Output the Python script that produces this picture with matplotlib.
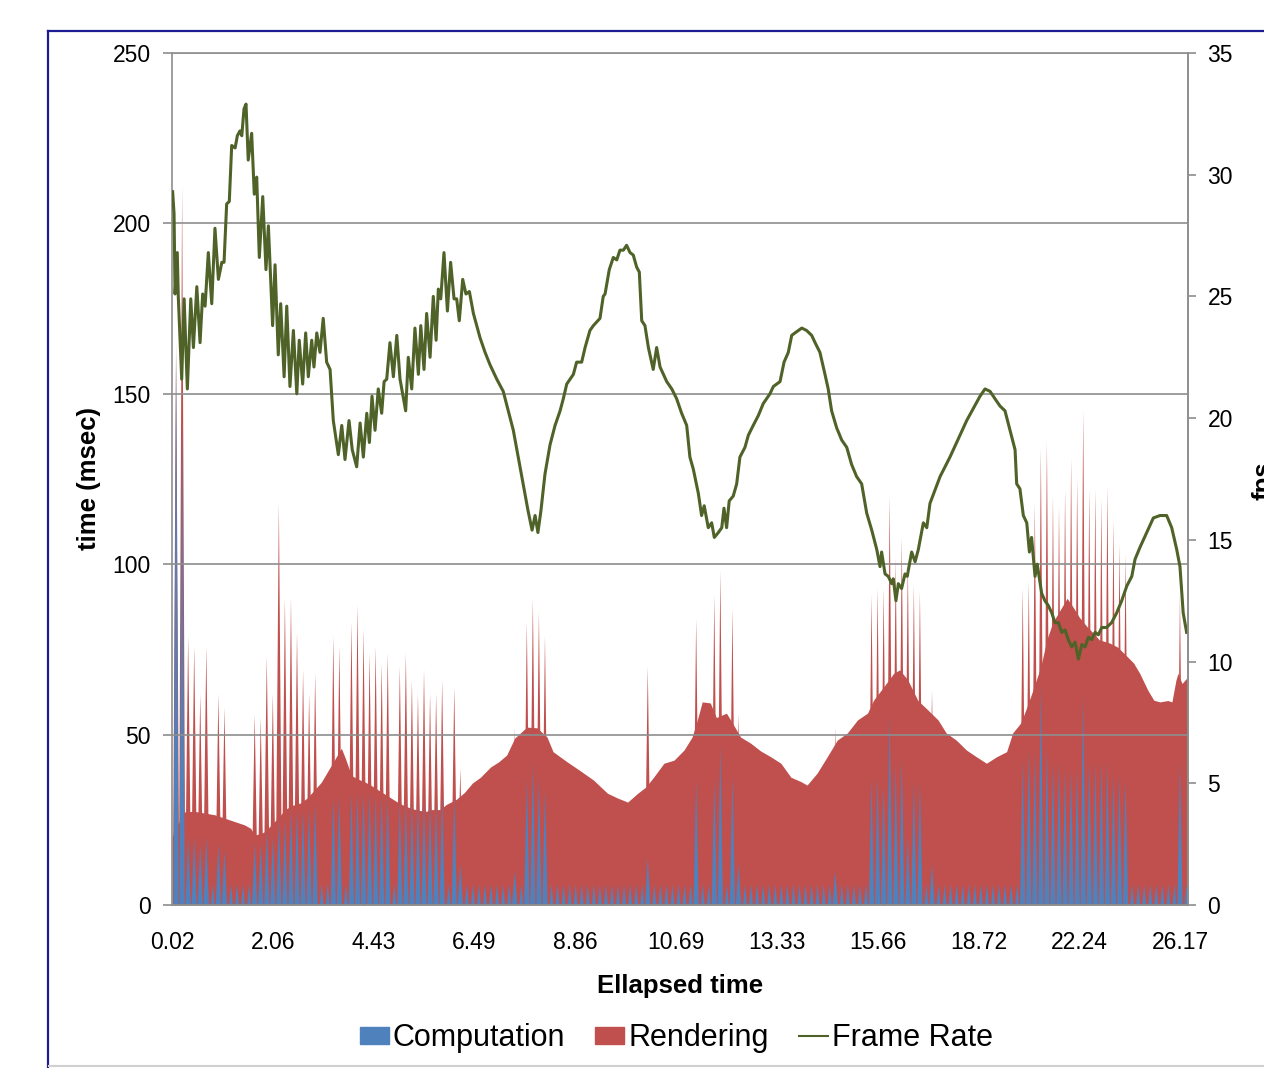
import numpy as np
import matplotlib
matplotlib.use('Agg')
import matplotlib.pyplot as plt
from matplotlib.collections import PolyCollection
from matplotlib.lines import Line2D
from matplotlib.patches import Patch

plt.rcParams['font.family'] = ['Liberation Sans', 'DejaVu Sans']

# x axis: frame index, a time label every 50 frames
time_labels = ['0.02', '2.06', '4.43', '6.49', '8.86', '10.69',
               '13.33', '15.66', '18.72', '22.24', '26.17']
label_every = 50
n_frames = 505

# rendering time, smooth envelope (frame, msec)
env_frame = [0, 2, 6, 11, 16, 21, 26, 31, 36, 39, 41, 44, 46, 50, 53, 56, 60, 64,
             67, 71, 74, 78, 81, 84, 86, 89, 92, 96, 99, 103, 107, 111, 114, 118,
             122, 126, 129, 133, 136, 141, 145, 149, 153, 158, 162, 166, 170, 176,
             181, 186, 189, 196, 202, 209, 216, 221, 226, 231, 235, 239, 244, 249,
             254, 258, 261, 263, 267, 270, 275, 278, 282, 287, 292, 297, 302, 307,
             312, 315, 320, 325, 330, 335, 340, 345, 348, 353, 358, 361, 365, 370,
             375, 380, 384, 389, 394, 399, 404, 409, 414, 417, 421, 424, 427, 431,
             434, 437, 441, 444, 447, 450, 454, 457, 460, 465, 469, 474, 477, 480,
             484, 487, 490, 494, 496, 498, 499, 501, 504]
env_ms = [20, 22.6, 27.3, 27.5, 27, 26.5, 25.5, 24.5, 23.5, 22.5, 20.5, 21, 21.5,
          24, 25.8, 28, 29.3, 30, 31.4, 34, 36, 40, 43, 46, 43, 38, 37, 36, 35,
          33.5, 32, 30.5, 29.5, 28.5, 27.8, 27.5, 28, 28, 29.5, 31, 33, 35.8, 37.5,
          40.5, 42, 44, 49, 52.2, 52, 49.3, 45, 42, 39.6, 36.7, 32.8, 31.4, 30.2,
          32.8, 34.6, 37.6, 41.6, 42.5, 45.5, 49.3, 55.2, 59.6, 59.3, 55, 56.3,
          53.4, 49.3, 47.5, 45.2, 43.5, 41.6, 37.5, 36.2, 35.2, 38.7, 43.5, 48.4,
          50.5, 54.3, 56.3, 60.1, 64, 68, 69, 66, 60, 57.2, 54.3, 50.5, 48.4, 45.5,
          43.5, 41.6, 43.5, 45, 50.5, 53.4, 58, 63, 70, 78, 83, 87, 90, 87.4, 84.5,
          81.6, 79.8, 77.8, 76.9, 75.7, 72.8, 71, 68, 63.1, 60.1, 59.6, 60, 59.6,
          66, 68, 65, 67]

# slow frames: total time (computation + rendering) and computation, msec
spike_frame = [2, 5, 8, 11, 14, 17, 23, 26,
               41, 44, 47, 50, 53, 56, 59, 62, 65, 68, 71, 80, 83,
               89, 92, 95, 98, 101, 104, 107, 113, 116, 119, 122, 125, 128, 131, 134,
               140, 143, 170, 176, 179, 182, 185, 236, 260, 269, 272, 278, 281, 329,
               347, 350, 353, 356, 359, 362, 365, 368, 371, 377,
               422, 425, 428, 431, 434, 437, 440, 443, 446, 449, 452, 455, 458, 461,
               464, 467, 470, 473, 500]
spike_total = [165, 211, 79, 76, 62, 76, 62, 58,
               56, 55, 73, 62, 118, 90, 90, 80, 69, 62, 68, 79, 76,
               83, 88, 81, 74, 76, 71, 74, 70, 74, 66, 62, 69, 62, 62, 66,
               64, 40, 52, 83, 90, 86, 79, 70, 84, 91, 98, 87, 56, 52,
               91, 93, 93, 120, 102, 108, 101, 94, 92, 63,
               93, 95, 118, 134, 136, 120, 117, 122, 131, 125, 145, 122, 122, 119,
               123, 113, 106, 103, 91]
spike_comp = [162, 144, 20, 20, 18, 20, 18, 16,
              18, 18, 22, 20, 25, 25, 28, 28, 28, 28, 30, 32, 32,
              33, 33, 33, 33, 32, 32, 32, 30, 30, 30, 30, 30, 30, 30, 32,
              32, 12, 10, 37, 42, 37, 34, 14, 37, 37, 47, 38, 12, 10,
              37, 38, 35, 56, 41, 43, 20, 36, 36, 12,
              43, 46, 45, 65, 46, 42, 42, 40, 40, 40, 62, 42, 42, 42,
              42, 38, 38, 37, 42]

# the computation step runs every third frame and takes about 6 msec
comp_step_first = 2
comp_step_every = 3
comp_step_ms = 6.3

# frame rate (frame, fps)
fps_frame = [0.3, 1.0, 1.5, 2.6, 3.1, 4.8, 6.0, 7.6, 9.3, 10.6, 12.3, 13.9, 15.2,
             16.4, 18.0, 19.7, 21.3, 23.0, 24.7, 25.8, 27.1, 28.4, 29.6, 31.3, 32.4,
             33.7, 34.6, 35.7, 36.7, 37.8, 39.5, 40.8, 42.0, 43.3, 45.0, 46.6, 47.8,
             49.9, 51.1, 52.7, 53.9, 55.6, 56.9, 58.5, 60.2, 61.9, 63.1, 64.8, 66.3,
             67.6, 69.3, 70.4, 71.8, 73.4, 75.0, 76.7, 78.4, 80.0, 82.5, 84.2, 85.8,
             87.8, 89.4, 91.6, 93.3, 94.9, 96.6, 97.9, 99.2, 100.7, 102.3, 104.0,
             105.2, 106.5, 108.1, 109.8, 111.5, 113.1, 115.9, 117.2, 118.9, 120.5,
             122.2, 123.4, 125.0, 126.3, 128.0, 129.6, 131.0, 132.1, 133.3, 134.9,
             136.6, 138.2, 139.9, 141.2, 142.5, 144.2, 145.8, 147.5, 149.5, 152.8,
             155.3, 157.7, 161.1, 164.3, 166.8, 169.3, 172.6, 174.6, 176.6, 178.6,
             180.1, 181.5, 183.0, 185.0, 187.5, 190.0, 192.5, 194.1, 195.8, 199.1,
             200.7, 203.2, 204.9, 207.3, 209.0, 212.3, 213.9, 214.8, 216.9, 218.9,
             220.6, 222.2, 223.9, 225.5, 227.2, 228.8, 230.5, 231.8, 233.0, 234.6,
             236.3, 238.7, 240.4, 242.1, 245.4, 247.9, 250.3, 252.8, 255.3, 256.9,
             258.6, 261.1, 262.7, 264.0, 266.0, 267.7, 269.0, 271.0, 272.7, 273.8,
             275.1, 276.4, 278.4, 280.1, 281.7, 284.2, 285.9, 288.3, 290.8, 293.3,
             296.6, 298.3, 301.6, 303.6, 305.7, 307.4, 309.0, 310.7, 312.4, 314.8,
             317.3, 319.0, 321.4, 323.9, 325.5, 327.2, 329.7, 332.2, 334.7, 337.1,
             339.6, 342.1, 344.6, 347.1, 349.6, 351.2, 352.0, 353.7, 355.3, 357.0,
             357.8, 359.1, 360.3, 361.9, 363.6, 364.7, 366.9, 368.6, 370.2, 372.7,
             374.4, 376.0, 381.0, 385.9, 389.2, 394.2, 397.5, 400.8, 403.3, 405.8,
             408.2, 410.7, 413.2, 415.7, 418.2, 419.0, 420.6, 422.3, 424.0, 425.3,
             426.4, 428.1, 429.2, 431.4, 433.0, 434.7, 436.4, 438.0, 439.7, 441.3,
             443.0, 444.6, 446.3, 448.0, 449.6, 451.3, 452.9, 454.6, 456.2, 457.9,
             459.5, 461.2, 463.6, 466.1, 468.6, 471.1, 473.6, 476.1, 477.7, 480.2,
             483.5, 486.8, 490.1, 493.4, 495.9, 498.4, 500.0, 501.6, 503.3]
fps = [29.3, 28.4, 25.1, 26.8, 25.0, 21.6, 24.9, 21.2, 24.9, 22.9, 25.4, 23.1, 25.1,
       24.6, 26.8, 24.7, 27.8, 25.7, 26.4, 26.4, 28.8, 28.9, 31.2, 31.1, 31.6,
       31.8, 31.6, 32.7, 32.9, 30.6, 31.7, 29.2, 29.9, 26.6, 29.1, 26.1, 27.9,
       23.8, 26.3, 22.6, 24.7, 21.7, 24.6, 21.3, 23.6, 21.0, 23.2, 21.4, 23.5,
       21.7, 23.2, 22.1, 23.5, 22.7, 24.1, 22.3, 22.0, 19.9, 18.5, 19.7, 18.3,
       19.9, 18.7, 18.0, 19.8, 18.4, 20.2, 19.0, 20.9, 19.5, 21.2, 20.2,
       21.5, 21.6, 23.1, 21.7, 23.4, 21.6, 20.3, 22.5, 21.2, 23.7,
       21.8, 23.8, 22.0, 24.3, 22.5, 25.0, 23.2, 25.3, 24.9, 26.8,
       24.4, 26.4, 24.9, 24.9, 24.0, 25.7, 25.1, 25.2, 24.3, 23.3,
       22.7, 22.2, 21.6, 21.1, 20.3, 19.5, 18.0, 17.1, 16.2, 15.4,
       16.0, 15.3, 16.2, 17.7, 18.9, 19.7, 20.3, 20.8, 21.4, 21.8,
       22.3, 22.3, 22.9, 23.6, 23.8, 24.1, 25.0, 25.1, 26.1, 26.6,
       26.5, 26.9, 26.9, 27.1, 26.8, 26.7, 26.2, 26.0, 24.0, 23.8,
       22.9, 22.0, 22.9, 22.1, 21.5, 21.2, 20.8, 20.2, 19.7, 18.4,
       17.9, 16.9, 16.0, 16.4, 15.5, 15.7, 15.1, 15.3, 15.5, 16.3,
       15.5, 16.6, 16.8, 17.3, 18.4, 18.8, 19.3, 19.7, 20.1, 20.6,
       21.0, 21.3, 21.5, 22.3, 22.7, 23.4, 23.5, 23.6, 23.7, 23.6,
       23.4, 23.1, 22.7, 21.8, 21.2, 20.3, 19.6, 19.1, 18.8, 18.1,
       17.6, 17.3, 16.1, 15.4, 14.6, 13.9, 14.5, 13.6, 13.5, 13.2,
       13.4, 12.5, 13.2, 13.0, 13.6, 13.5, 14.5, 14.1, 14.6, 15.7,
       15.5, 16.5, 17.6, 18.4, 19.0, 19.9, 20.4, 20.9, 21.2, 21.1,
       20.8, 20.5, 20.3, 19.5, 18.7, 17.3, 17.1, 16.0, 15.7, 14.5,
       15.1, 13.5, 14.0, 12.8, 12.5, 12.3, 12.0, 11.6, 11.6, 11.2,
       11.3, 10.9, 10.6, 10.8, 10.1, 10.7, 10.6, 11.0, 10.9, 11.2,
       11.1, 11.4, 11.4, 11.6, 12.0, 12.5, 13.1, 13.5, 14.2, 14.7,
       15.3, 15.9, 16.0, 16.0, 15.5, 14.6, 13.9, 12.0, 11.2]

RED = '#C0504D'
BLUE = '#4F81BD'
GREEN = '#4F6228'
GRAY = '#8E8E8E'


def spike_polys(frames, heights, half_width):
    # one thin triangle per slow frame, standing on the axis
    return [[(f - half_width, 0), (f, h), (f + half_width, 0)]
            for f, h in zip(frames, heights)]


def main():
    frames = np.arange(n_frames)

    # regular computation steps (small teeth along the axis)
    comp = np.zeros(n_frames)
    comp[comp_step_first::comp_step_every] = comp_step_ms

    fig = plt.figure(figsize=(12.64, 10.68), dpi=100)
    ax = fig.add_axes([0.1361, 0.1526, 0.8038, 0.7978])

    ax.fill_between(env_frame, 0, env_ms, color=RED, lw=0)
    ax.add_collection(PolyCollection(spike_polys(spike_frame, spike_total, 1.6),
                                     facecolors=RED, edgecolors='none'))
    ax.fill_between(frames, 0, comp, color=BLUE, lw=0)
    ax.add_collection(PolyCollection(spike_polys(spike_frame, spike_comp, 1.3),
                                     facecolors=BLUE, edgecolors='none'))

    ax.set_xlim(0, n_frames - 1)
    ax.set_ylim(0, 250)
    ax.set_yticks(range(0, 251, 50))
    ax.set_xticks(np.arange(len(time_labels)) * label_every)
    ax.set_xticklabels(time_labels)
    ax.grid(axis='y', color=GRAY, lw=1.2)
    ax.tick_params(axis='y', length=6.5, width=1.2, color=GRAY, pad=9, labelsize=16.5)
    ax.tick_params(axis='x', length=0, pad=19, labelsize=16.5)
    for s in ax.spines.values():
        s.set_color(GRAY)
        s.set_linewidth(1.2)

    ax.set_xlabel('Ellapsed time', fontsize=18.5, fontweight='bold', labelpad=14)
    ax.set_ylabel('time (msec)', fontsize=18.5, fontweight='bold', labelpad=8)

    ax2 = ax.twinx()
    ax2.plot(fps_frame, fps, color=GREEN, lw=2.2, solid_joinstyle='round')
    ax2.set_ylim(0, 35)
    ax2.set_yticks(range(0, 36, 5))
    ax2.tick_params(axis='y', length=6, width=1.2, color=GRAY, pad=8, labelsize=16.5)
    for s in ax2.spines.values():
        s.set_visible(False)
    ax2.spines['right'].set_visible(True)
    ax2.spines['right'].set_color(GRAY)
    ax2.spines['right'].set_linewidth(1.2)

    # secondary axis title, cut off by the screenshot edge as in the source
    fig.text(1252 / 1264, 1 - 481 / 1068, 'fps', rotation=90, ha='left', va='center',
             fontsize=18.5, fontweight='bold')

    handles = [Patch(color=BLUE, label='Computation'),
               Patch(color=RED, label='Rendering'),
               Line2D([], [], color=GREEN, lw=1.5, label='Frame Rate')]
    fig.legend(handles=handles, loc='center', bbox_to_anchor=(0.535, 0.028), ncol=3,
               frameon=False, fontsize=22, handlelength=0.95, handleheight=0.5,
               handletextpad=0.12, columnspacing=1.0, borderaxespad=0)

    # chart frame
    fig.add_artist(Line2D([48 / 1264, 48 / 1264], [0, 1 - 31 / 1068], color='#1C1C94', lw=1.6))
    fig.add_artist(Line2D([48 / 1264, 1], [1 - 31 / 1068, 1 - 31 / 1068], color='#1C1C94', lw=1.6))
    fig.add_artist(Line2D([49 / 1264, 1], [2 / 1068, 2 / 1068], color='#D0D0D0', lw=1.5))

    fig.savefig('out.png', dpi=100)


if __name__ == '__main__':
    main()
